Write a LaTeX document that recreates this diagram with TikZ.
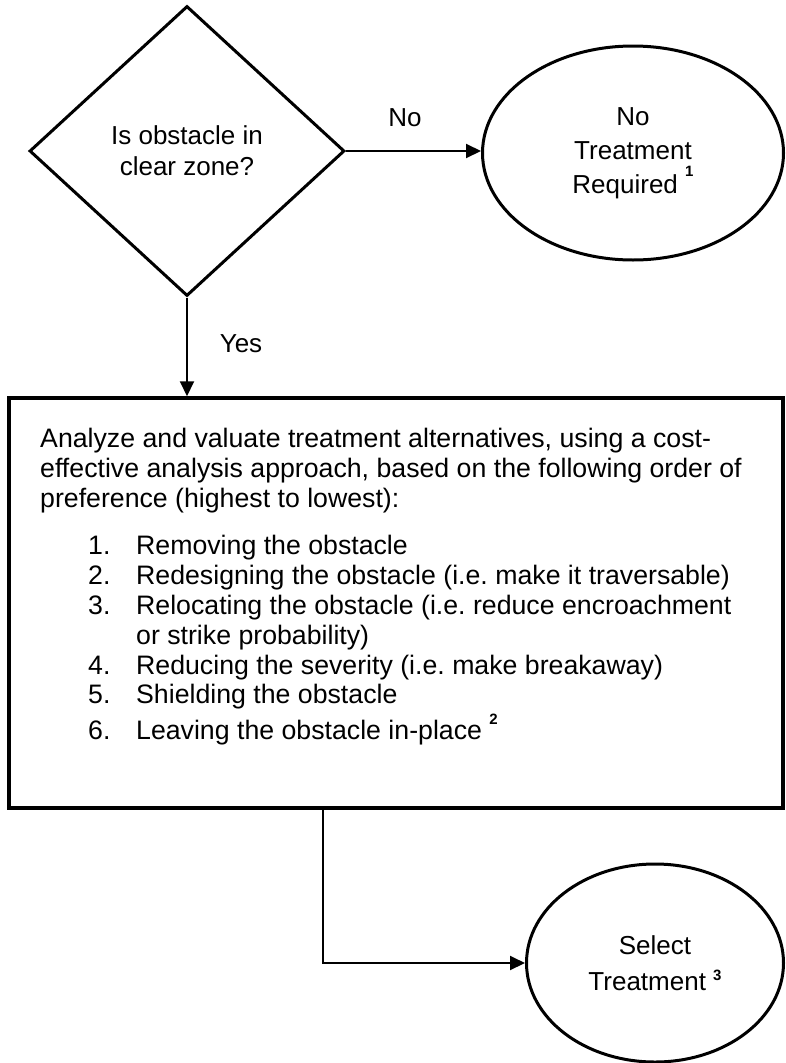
\documentclass[tikz,border=0pt]{standalone}
\usepackage{fontspec}
\setmainfont{Liberation Sans}
\usetikzlibrary{shapes.geometric,arrows.meta}
\newcommand{\supmark}[2]{\raisebox{#1}{\fontsize{15}{15}\selectfont\bfseries #2}}
\newcommand{\itm}[2]{\hspace*{48pt}\makebox[48pt][l]{#1}#2}
\begin{document}
\frenchspacing
\begin{tikzpicture}[x=1pt,y=-1pt,
  every node/.style={font=\fontsize{26}{31}\selectfont},
  decision/.style={diamond,draw,line width=3pt,minimum width=315pt,minimum height=290pt,inner sep=0pt,aspect=1.086,align=center},
  terminal/.style={ellipse,draw,line width=3pt,inner sep=0pt,align=center},
  procbox/.style={rectangle,draw,line width=3.5pt,inner sep=0pt},
  arr/.style={line width=2pt,-{Triangle[length=15pt,width=14pt]}},
  lbl/.style={inner sep=0pt,anchor=base}
]
\useasboundingbox (0,0) rectangle (785,1063);

\node[decision] (q) at (187,151) {Is obstacle in\\clear zone?};
\node[terminal,minimum width=301pt,minimum height=214pt,font=\fontsize{26}{34}\selectfont] (nr) at (633,153) {No\\Treatment\\Required \supmark{17pt}{1}};
\node[procbox,minimum width=774pt,minimum height=410pt] (box) at (396,603) {};
\node[anchor=north west,inner sep=0pt,align=left,font=\fontsize{26.7}{29.8}\selectfont] (txt) at (40,428)
 {Analyze and valuate treatment alternatives, using a cost-\\
  effective analysis approach, based on the following order of\\
  preference (highest to lowest):\\[18pt]
  \itm{1.}{Removing the obstacle}\\
  \itm{2.}{Redesigning the obstacle (i.e. make it traversable)}\\
  \itm{3.}{Relocating the obstacle (i.e. reduce encroachment}\\
  \hspace*{96pt}or strike probability)\\
  \itm{4.}{Reducing the severity (i.e. make breakaway)}\\
  \itm{5.}{Shielding the obstacle}\\[4pt]
  \itm{6.}{Leaving the obstacle in-place \supmark{15pt}{2}}};
\node[terminal,minimum width=257pt,minimum height=198pt,font=\fontsize{26}{36}\selectfont] (sel) at (655,963) {Select\\Treatment \supmark{10pt}{3}};

\coordinate (bend) at (323,963);

\draw[arr] (q.east) -- (nr.west |- q.east);
\node[lbl] (nolbl) at (405,126) {No};
\draw[arr] (q.south) -- (q.south |- box.north);
\node[lbl] (yeslbl) at (241,352) {Yes};
\draw[arr] (box.south -| bend) |- (sel.west);
\end{tikzpicture}
\end{document}
